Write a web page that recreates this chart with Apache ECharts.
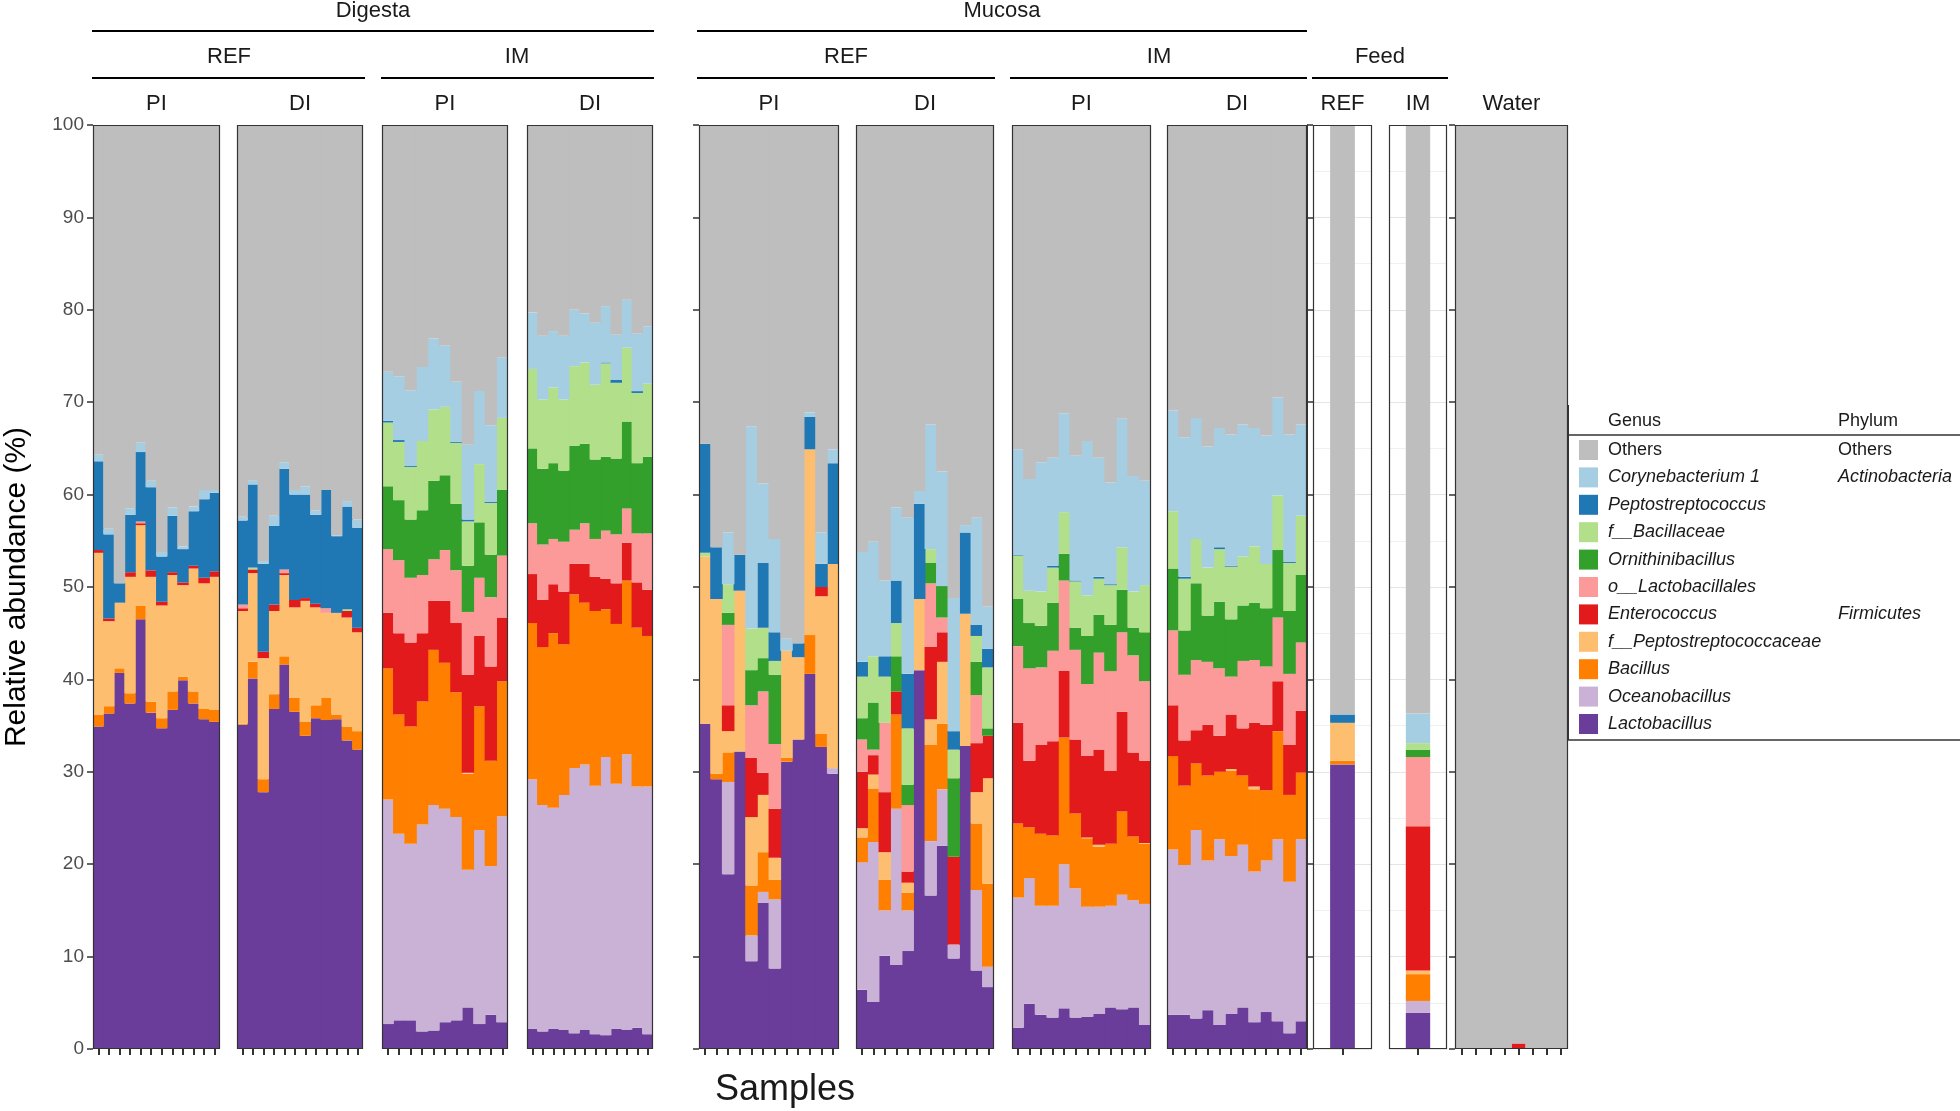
<!DOCTYPE html>
<html><head><meta charset="utf-8">
<script src="https://cdn.jsdelivr.net/npm/echarts@6/dist/echarts.min.js"></script>
<style>html,body{margin:0;padding:0;background:#fff}#c{width:1960px;height:1111px}</style>
</head><body><div id="c"></div>
<script>
// Genus stacking order, bottom to top
const genera = ['Lactobacillus','Oceanobacillus','Bacillus','f__Peptostreptococcaceae','Enterococcus','o__Lactobacillales','Ornithinibacillus','f__Bacillaceae','Peptostreptococcus','Corynebacterium 1','Others'];
const phylumLabels = ['Others','Actinobacteria','','','','','Firmicutes','','','',''];
const yTickValues = [0,10,20,30,40,50,60,70,80,90,100];

// Each row: one sample, values (%) in the order of `genera`
const digestaRefPI = [
 [34.9,0,1.3,17.5,0.3,0,0,0,9.6,0.7,35.7],
 [36.3,0,0.8,9.2,0.3,0,0,0,9.1,0.6,43.7],
 [40.7,0,0.5,7.1,0,0,0,0,2.1,0,49.6],
 [37.4,0,1.1,12.6,0.5,0,0,0,6.2,0.7,41.5],
 [46.5,0,1.5,8.7,0.2,0.2,0,0,7.5,1.0,34.4],
 [36.4,0,1.2,13.5,0.7,0,0,0,9.0,0.7,38.5],
 [34.7,0,1.1,12.2,0.4,0,0,0,4.9,0.5,46.2],
 [36.7,0,2.0,12.6,0.3,0,0,0,6.1,0.9,41.4],
 [39.9,0,0.4,9.9,0.3,0,0,0,3.6,0.3,45.6],
 [37.4,0,1.3,13.3,0.3,0,0,0,5.9,0.5,41.3],
 [35.7,0,1.1,13.6,0.6,0,0,0,8.5,1.0,39.5],
 [35.4,0,1.3,14.4,0.6,0,0,0,8.5,0.3,39.5]
];
const digestaRefDI = [
 [35.1,0,0.1,12.2,0.3,0.4,0,0,9.1,0.4,42.4],
 [40.1,0,1.8,9.6,0.4,0,0,0.2,9.0,0.4,38.5],
 [27.8,0,1.4,13.1,0.7,0,0,0,9.5,0.3,47.2],
 [36.8,0,1.6,9.0,0.7,0,0,0,8.5,1.1,42.3],
 [41.6,0,0.9,8.8,0.2,0.4,0,0,10.9,0.7,36.5],
 [36.5,0,1.5,9.8,0.8,0,0,0,11.4,0.5,39.5],
 [33.9,0,1.5,13.1,0.3,0,0,0,11.2,0.9,39.1],
 [35.8,0,1.4,10.6,0.4,0,0,0,9.6,0.5,41.7],
 [35.6,0,2.4,9.2,0,0.5,0,0,12.8,0,39.5],
 [35.7,0,0.5,11.0,0,0,0,0,8.3,0.1,44.4],
 [33.4,0,1.5,11.8,0.7,0,0,0.2,11.1,0.6,40.7],
 [32.4,0,2.0,10.7,0.5,0,0,0,10.8,0.9,42.7]
];
const digestaImPI = [
 [2.7,24.3,14.2,0,6.0,6.9,6.8,6.9,0.2,5.3,26.7],
 [3.1,20.2,12.9,0,8.8,7.9,6.5,6.3,0.2,6.9,27.2],
 [3.1,19.1,12.7,0,9.1,7.0,6.3,5.7,0.1,8.2,28.7],
 [1.9,22.4,13.3,0,7.4,6.3,7.0,7.5,0,8.0,26.2],
 [2.0,24.4,16.8,0,5.3,4.5,8.5,7.7,0,7.7,23.1],
 [2.9,23.1,15.8,0,6.7,5.5,8.1,7.4,0,6.6,23.9],
 [3.1,22.0,13.5,0,7.5,5.7,7.2,6.6,0.1,6.5,27.8],
 [4.5,14.9,10.4,0.1,10.6,6.8,5.0,4.8,0.2,8.1,34.6],
 [2.7,21.0,13.4,0,7.6,6.3,6.0,6.3,0,7.9,28.8],
 [3.7,16.1,11.4,0,10.2,7.5,4.6,5.6,0.1,8.3,32.5],
 [2.9,22.3,14.6,0,6.9,6.7,7.1,7.8,0,6.5,25.2]
];
const digestaImDI = [
 [2.2,27.0,16.9,0,5.3,5.5,8.1,8.6,0,6.1,20.3],
 [1.9,24.5,17.1,0,5.1,6.0,8.2,7.5,0,6.9,22.8],
 [2.2,23.9,18.9,0,5.3,4.9,8.2,8.2,0,6.1,22.3],
 [2.1,25.4,16.3,0,5.7,5.4,7.7,7.7,0,6.9,22.8],
 [1.7,28.7,18.8,0,3.3,3.7,9.1,8.6,0,6.1,20.0],
 [2.1,28.7,17.5,0,4.2,4.4,8.6,8.8,0,5.3,20.4],
 [1.6,26.9,18.9,0,3.7,4.1,8.6,8.1,0,6.7,21.4],
 [1.5,30.1,16.0,0,3.3,5.2,8.0,10.1,0.1,6.1,19.6],
 [2.2,26.5,17.3,0,4.4,5.3,8.2,8.2,0.3,4.9,22.7],
 [2.1,29.8,18.8,0,4.1,3.7,9.4,8.0,0,5.2,18.9],
 [2.3,26.1,17.2,0,4.9,5.3,7.6,7.6,0.2,6.2,22.6],
 [1.6,26.8,16.3,0,5.0,6.1,8.3,7.9,0,6.2,21.8]
];
const mucosaRefPI = [
 [35.2,0,0,18.1,0,0,0,0.4,11.8,0,34.5],
 [29.2,0,0.6,18.9,0,0,0,0,5.6,0,45.7],
 [18.9,10.0,3.2,2.3,2.8,8.7,1.3,3.1,0,5.6,44.1],
 [32.2,0,0,17.4,0,0,0,0,3.9,0,46.5],
 [9.5,2.8,5.4,7.4,6.4,5.7,3.8,4.5,0,21.9,32.6],
 [15.8,1.2,4.3,6.2,2.4,8.8,3.6,3.3,7.0,8.6,38.8],
 [8.7,7.5,2.1,2.4,5.3,7.0,7.5,1.5,3.1,10.1,44.8],
 [31.1,0,0.4,11.6,0,0,0,0,0,1.3,55.6],
 [33.5,0,0,8.9,0,0,0,0,1.5,0,56.1],
 [40.6,0,4.2,20.1,0,0,0,0,3.5,0.5,31.1],
 [32.7,0,1.4,14.9,1.0,0,0,0,2.5,3.4,44.1],
 [29.8,0.6,0,22.1,0,0,0,0,10.9,1.5,35.1]
];
const mucosaRefDI = [
 [6.4,13.8,2.7,1.0,6.1,3.5,2.3,4.5,1.6,11.9,46.2],
 [5.1,17.3,5.8,1.5,2.1,0.6,5.1,5.0,0,12.4,45.1],
 [10.1,4.9,3.3,3.0,6.5,7.5,0,5.0,2.2,8.2,49.3],
 [9.1,16.9,10.2,0,2.5,0,3.8,3.6,4.6,7.9,41.4],
 [10.6,4.4,1.9,1.1,1.2,7.2,2.2,6.1,5.9,16.9,42.5],
 [41.0,0,0,7.7,0,0,0,0,10.3,1.4,39.6],
 [16.6,5.9,10.4,2.8,7.8,6.9,2.2,1.5,0,13.5,32.4],
 [22.0,6.1,7.1,6.7,3.2,1.6,3.4,0,0,12.4,37.5],
 [9.8,1.5,0,0,9.5,0,8.5,3.1,2.0,14.4,51.2],
 [32.8,0,0,14.3,0,0,0,0,8.8,0.8,43.3],
 [8.5,8.7,7.2,3.4,5.3,5.2,3.6,2.8,1.2,11.6,42.5],
 [6.7,2.2,9.0,11.4,4.6,0,0.8,6.6,2.0,4.6,52.1]
];
const mucosaImPI = [
 [2.3,14.1,8.0,0,10.9,8.3,5.1,4.7,0.1,11.4,35.1],
 [4.9,13.6,5.5,0,7.2,10.0,4.9,3.5,0,12.1,38.3],
 [3.7,11.8,7.8,0,9.6,8.4,4.5,3.7,0,14.0,36.5],
 [3.4,12.1,7.6,0,10.2,9.8,5.2,3.8,0.2,11.7,36.0],
 [4.4,15.6,13.7,0,7.2,9.8,2.9,4.5,0,10.7,31.2],
 [3.4,14.0,8.1,0,8.0,9.7,2.4,5.0,0.1,13.5,35.8],
 [3.5,11.9,7.4,0.1,8.8,7.8,5.2,4.4,0,16.7,34.2],
 [3.8,11.6,6.5,0.2,10.3,10.5,4.1,3.9,0.2,12.9,36.0],
 [4.5,11.0,6.7,0,7.9,10.8,5.0,4.3,0.1,11.0,38.7],
 [4.3,12.4,9.0,0,10.8,8.6,4.6,4.6,0,13.9,31.8],
 [4.5,11.6,6.9,0,9.1,10.5,3.0,3.9,0,12.5,38.0],
 [2.6,13.1,6.5,0.1,8.9,8.6,5.3,5.1,0,11.3,38.5]
];
const mucosaImDI = [
 [3.7,17.9,10.1,0,5.5,8.1,6.7,6.2,0,10.9,30.9],
 [3.7,16.2,8.6,0,4.9,7.1,4.8,5.6,0.2,15.1,33.8],
 [3.3,20.4,7.2,0,3.6,7.6,8.3,4.8,0,13.1,31.7],
 [4.2,16.2,9.2,0,5.5,6.8,5.0,5.2,0,13.1,34.8],
 [2.6,20.1,7.3,0,3.9,7.3,7.2,5.7,0.2,12.9,32.8],
 [3.8,17.1,9.2,0.2,5.9,4.1,6.2,5.7,0.1,14.2,33.5],
 [4.5,17.6,7.5,0,5.1,7.3,6.0,5.3,0,14.3,32.4],
 [2.9,16.3,8.9,0.3,6.9,6.8,6.2,6.1,0,12.8,32.8],
 [4.0,16.4,7.6,0,7.1,6.3,6.3,4.8,0,13.9,33.6],
 [3.0,19.7,11.7,0,5.4,6.9,7.3,5.9,0,10.6,29.5],
 [1.7,16.4,9.4,0,5.4,7.7,6.8,5.2,0.1,13.8,33.5],
 [3.0,19.7,7.2,0,6.7,7.4,7.3,6.4,0,9.9,32.4]
];
const feedRef = [
 [30.8,0,0.4,4.1,0,0,0,0,0.9,0,63.8]
];
const feedIm = [
 [3.9,1.3,2.9,0.4,15.6,7.5,0.8,0.7,0,3.2,63.7]
];
const water = [
 [0,0,0,0,0,0,0,0,0,0,100],
 [0,0,0,0,0,0,0,0,0,0,100],
 [0,0,0,0,0,0,0,0,0,0,100],
 [0,0,0,0,0,0,0,0,0,0,100],
 [0,0,0,0,0.6,0,0,0,0,0,99.4],
 [0,0,0,0,0,0,0,0,0,0,100],
 [0,0,0,0,0,0,0,0,0,0,100],
 [0,0,0,0,0,0,0,0,0,0,100]
];

// ---- styles / layout ----
const colors = ['#6A3D9A','#CAB2D6','#FF7F00','#FDBF6F','#E31A1C','#FB9A99','#33A02C','#B2DF8A','#1F78B4','#A6CEE3','#BEBEBE'];
const FONT = "'Liberation Sans', Arial, sans-serif";
const TOP = 125, H = 924;
const panels = [
 {id:'dRefPI', rows:digestaRefPI, left:93, width:127, y:'labels'},
 {id:'dRefDI', rows:digestaRefDI, left:237, width:126},
 {id:'dImPI', rows:digestaImPI, left:382, width:126},
 {id:'dImDI', rows:digestaImDI, left:527, width:126},
 {id:'mRefPI', rows:mucosaRefPI, left:699, width:140, y:'ticks'},
 {id:'mRefDI', rows:mucosaRefDI, left:856, width:138},
 {id:'mImPI', rows:mucosaImPI, left:1012, width:139},
 {id:'mImDI', rows:mucosaImDI, left:1167, width:140},
 {id:'fRef', rows:feedRef, left:1313, width:59, y:'feed', feed:true},
 {id:'fIm', rows:feedIm, left:1389, width:58, feed:true},
 {id:'water', rows:water, left:1455, width:113, y:'ticks'}
];

const grids = [], xAxes = [], yAxes = [], series = [], graphics = [];
panels.forEach((p, pi) => {
  const n = p.rows.length;
  grids.push({left:p.left, top:TOP, width:p.width, height:H, show:!!p.feed, backgroundColor:'#fff', borderWidth:0});
  xAxes.push({type:'category', gridIndex:pi, data:p.rows.map((r,i)=>p.id+'_'+(i+1)),
    axisLine:{show:false}, axisLabel:{show:false, interval:0},
    axisTick:{show:true, interval:0, alignWithLabel:true, length:6, lineStyle:{color:'#333', width:2}}});
  const ya = {type:'value', gridIndex:pi, min:0, max:100, interval:10,
    axisLine:{show:false}, axisLabel:{show:false}, axisTick:{show:false}, splitLine:{show:false}};
  if (p.y === 'labels') {
    ya.axisLabel = {show:true, fontSize:19, color:'#4D4D4D', fontFamily:FONT, margin:9,
      formatter: v => yTickValues.includes(v) ? String(v) : ''};
    ya.axisTick = {show:true, length:6, lineStyle:{color:'#333', width:1.5}};
  } else if (p.y === 'ticks') {
    ya.axisTick = {show:true, length:6, lineStyle:{color:'#333', width:1.5}};
  } else if (p.y === 'feed') {
    ya.axisLine = {show:true, lineStyle:{color:'#333', width:1}};
    ya.offset = 6;
    ya.axisTick = {show:true, inside:true, length:6, lineStyle:{color:'#333', width:1.5}};
  }
  if (p.feed) {
    ya.splitLine = {show:true, lineStyle:{color:'#E5E5E5', width:1}};
    ya.minorTick = {show:false, splitNumber:2};
    ya.minorSplitLine = {show:true, lineStyle:{color:'#F0F0F0', width:1}};
  }
  yAxes.push(ya);
  const bw = p.feed ? '42%' : (p.width / n + 0.9);
  genera.forEach((g, gi) => {
    series.push({type:'bar', name:g, xAxisIndex:pi, yAxisIndex:pi, stack:'s'+pi,
      data:p.rows.map(r => r[gi]), barGap:'0%', barWidth:bw,
      itemStyle:{color:colors[gi], borderWidth:0}, silent:true, animation:false});
  });
  graphics.push({type:'rect', z:100, shape:{x:p.left+0.5, y:TOP+0.5, width:p.width-1, height:H-1},
    style:{fill:null, stroke:'#333', lineWidth:1.2}});
});

// strip headers
function txt(t, x, y, size, opts) {
  graphics.push(Object.assign({type:'text', z:100, x:x, y:y, style:{text:t, textAlign:'center', textVerticalAlign:'middle',
    fontSize:size, fontFamily:FONT, fill:'#1A1A1A'}}, opts||{}));
}
function hline(x1, x2, y, color, w) {
  graphics.push({type:'line', z:100, shape:{x1:x1, y1:y, x2:x2, y2:y}, style:{stroke:color||'#000', lineWidth:w||2.2}});
}
const stripSize = 22;
txt('Digesta', 373, 11, stripSize); hline(92, 654, 31);
txt('Mucosa', 1002, 11, stripSize); hline(697, 1307, 31);
txt('REF', 229, 57, stripSize); hline(92, 365, 78);
txt('IM', 517, 57, stripSize); hline(381, 654, 78);
txt('REF', 846, 57, stripSize); hline(697, 995, 78);
txt('IM', 1159, 57, stripSize); hline(1010, 1307, 78);
txt('Feed', 1380, 57, stripSize); hline(1312, 1448, 78);
const row3 = ['PI','DI','PI','DI','PI','DI','PI','DI','REF','IM','Water'];
panels.forEach((p, i) => txt(row3[i], p.left + p.width/2, 104, stripSize));

// axis titles
txt('Samples', 785, 1090, 36, {});
graphics.push({type:'text', z:100, x:17, y:587, rotation:Math.PI/2,
  style:{text:'Relative abundance (%)', textAlign:'center', textVerticalAlign:'middle', fontSize:30, fontFamily:FONT, fill:'#000'}});

// legend table
const LX = 1568, rowY0 = 450, rowH = 27.4;
graphics.push({type:'text', z:100, x:1608, y:421, style:{text:'Genus', textVerticalAlign:'middle', fontSize:18, fontFamily:FONT, fill:'#1A1A1A'}});
graphics.push({type:'text', z:100, x:1838, y:421, style:{text:'Phylum', textVerticalAlign:'middle', fontSize:18, fontFamily:FONT, fill:'#1A1A1A'}});
hline(LX, 1960, 435, '#666', 2);
hline(LX, 1960, 740, '#666', 2);
graphics.push({type:'line', z:100, shape:{x1:LX, y1:405, x2:LX, y2:740}, style:{stroke:'#333', lineWidth:2}});
const legendOrder = genera.slice().reverse();
legendOrder.forEach((g, i) => {
  const gi = genera.indexOf(g);
  const y = rowY0 + i*rowH;
  graphics.push({type:'rect', z:100, shape:{x:1579, y:y-10, width:19, height:20}, style:{fill:colors[gi]}});
  graphics.push({type:'text', z:100, x:1608, y:y, style:{text:g, textVerticalAlign:'middle', fontSize:18,
    fontStyle: g === 'Others' ? 'normal' : 'italic', fontFamily:FONT, fill:'#1A1A1A'}});
  if (phylumLabels[i]) {
    graphics.push({type:'text', z:100, x:1838, y:y, style:{text:phylumLabels[i], textVerticalAlign:'middle', fontSize:18,
      fontStyle: phylumLabels[i] === 'Others' ? 'normal' : 'italic', fontFamily:FONT, fill:'#1A1A1A'}});
  }
});

const chart = echarts.init(document.getElementById('c'), null, {renderer:'canvas'});
chart.setOption({animation:false, backgroundColor:'#fff', grid:grids, xAxis:xAxes, yAxis:yAxes, series:series, graphic:graphics});
</script></body></html>
